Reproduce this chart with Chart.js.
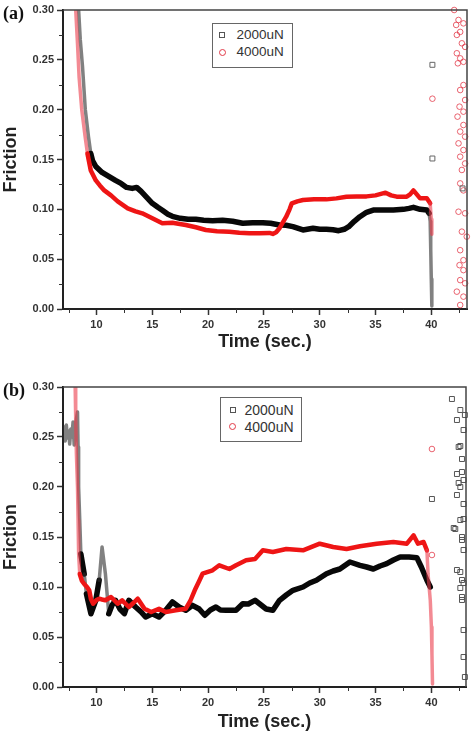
<!DOCTYPE html>
<html>
<head>
<meta charset="utf-8">
<script src="https://cdn.jsdelivr.net/npm/chart.js@4.4.1/dist/chart.umd.min.js"></script>
<style>
  html, body { margin: 0; padding: 0; background: #fff; overflow: hidden; }
  #page { position: relative; width: 473px; height: 731px; }
  canvas { position: absolute; left: 0; }
  .tag { position: absolute; left: 3px; font: bold 18px "Liberation Serif", "Times New Roman", serif; color: #111; line-height: 18px; }
  .legend { position: absolute; border: 1.5px solid #666; background: #fff; box-sizing: border-box; color: #333;
            font-family: "Liberation Sans", Arial, sans-serif; }
  .legend span { position: absolute; white-space: nowrap; line-height: 16px; }
  .sq { width: 4px; height: 4px; border: 1px solid #555; }
  .ci { width: 5px; height: 5px; border: 1px solid #e23a48; border-radius: 50%; }
</style>
</head>
<body>
<div id="page">
  <canvas id="chart-a" width="473" height="365" style="top:0"></canvas>
  <canvas id="chart-b" width="473" height="367" style="top:364px"></canvas>

  <div class="tag" style="top:4px">(a)</div>
  <div class="tag" style="top:381px">(b)</div>

  <div class="legend" style="left:212px;top:23px;width:81px;height:45px;font-size:13.5px">
    <span class="sq" style="left:5.5px;top:7.5px"></span><span style="left:23.5px;top:2.5px">2000uN</span>
    <span class="ci" style="left:6px;top:24.5px"></span><span style="left:23.5px;top:20px">4000uN</span>
  </div>
  <div class="legend" style="left:220px;top:397px;width:82px;height:45px;font-size:14px">
    <span class="sq" style="left:8.8px;top:8.5px"></span><span style="left:23.5px;top:3.5px">2000uN</span>
    <span class="ci" style="left:8.3px;top:25px"></span><span style="left:23.5px;top:20.8px">4000uN</span>
  </div>
</div>

<script>
/* ===== ticks ===== */
const X_MAJOR = [10, 15, 20, 25, 30, 35, 40];
const X_MINOR = [7.5, 12.5, 17.5, 22.5, 27.5, 32.5, 37.5, 42.5];
const Y_MAJOR = [0, 0.05, 0.10, 0.15, 0.20, 0.25, 0.30];
const Y_MINOR = [0.025, 0.075, 0.125, 0.175, 0.225, 0.275];

/* ===== panel (a): [time s, friction] ===== */
const A_2000 = [
  [8.40, 0.300], [8.55, 0.270], [8.75, 0.243], [9.00, 0.200], [9.28, 0.173], [9.49, 0.156],
  [9.64, 0.149], [9.94, 0.143], [10.5, 0.137], [11.1, 0.133], [11.7, 0.129], [12.2, 0.126],
  [12.7, 0.122], [13.2, 0.121], [13.6, 0.122], [14.0, 0.118], [14.5, 0.112], [15.0, 0.106],
  [15.5, 0.102], [15.9, 0.099], [16.4, 0.095], [16.8, 0.093], [17.5, 0.091], [18.2, 0.090],
  [18.9, 0.090], [19.6, 0.089], [20.4, 0.0886], [21.3, 0.089], [22.2, 0.088], [23.1, 0.086],
  [24.0, 0.0866], [24.9, 0.0866], [25.6, 0.086], [26.4, 0.0843], [27.0, 0.084], [27.6, 0.0826],
  [28.5, 0.0793], [29.4, 0.081], [30.0, 0.080], [30.6, 0.080], [31.2, 0.0795], [31.7, 0.0786],
  [32.2, 0.080], [32.6, 0.0826], [33.1, 0.088], [33.6, 0.0926], [34.2, 0.097], [34.8, 0.0993],
  [35.7, 0.0993], [36.6, 0.0993], [37.5, 0.100], [38.0, 0.101], [38.4, 0.102], [39.0, 0.100],
  [39.6, 0.0993], [39.8, 0.096], [39.9, 0.088], [39.95, 0.060], [40.0, 0.030], [40.05, 0.003]
];
const A_4000 = [
  [8.14, 0.300], [8.30, 0.266], [8.44, 0.233], [8.68, 0.200], [8.98, 0.173], [9.19, 0.156],
  [9.49, 0.139], [9.94, 0.129], [10.3, 0.124], [10.7, 0.119], [11.3, 0.114], [11.9, 0.108],
  [12.8, 0.101], [13.5, 0.098], [14.1, 0.096], [15.0, 0.091], [15.9, 0.086], [16.8, 0.0866],
  [18.0, 0.0843], [18.9, 0.082], [19.8, 0.0793], [20.8, 0.078], [21.9, 0.0776], [22.8, 0.0765],
  [23.7, 0.076], [24.6, 0.076], [25.5, 0.0763], [25.8, 0.0753], [26.1, 0.077], [26.4, 0.081],
  [26.7, 0.087], [27.0, 0.0926], [27.3, 0.100], [27.5, 0.106], [28.0, 0.108], [28.5, 0.1093],
  [29.5, 0.110], [30.6, 0.110], [31.5, 0.111], [32.4, 0.1127], [33.3, 0.113], [34.2, 0.113],
  [35.0, 0.114], [35.9, 0.1167], [36.4, 0.114], [36.9, 0.1127], [37.8, 0.1127], [38.1, 0.115],
  [38.4, 0.119], [38.7, 0.115], [39.0, 0.111], [39.6, 0.111], [39.9, 0.106], [40.0, 0.090],
  [40.05, 0.075]
];
const A_2000_STRAY = [[40.1, 0.245], [40.1, 0.151], [42.8, 0.121]];
const A_4000_STRAY = [
  [40.1, 0.211], [42.05, 0.300], [42.44, 0.290], [42.23, 0.285], [42.88, 0.2866], [42.59, 0.278],
  [42.29, 0.275], [42.74, 0.2666], [43.03, 0.263], [42.29, 0.2566], [42.59, 0.2515], [42.88, 0.248],
  [42.38, 0.2465], [42.88, 0.2247], [42.59, 0.2197], [43.03, 0.2097], [42.53, 0.203], [42.88, 0.198],
  [42.35, 0.193], [42.88, 0.1846], [42.59, 0.178], [43.03, 0.1729], [42.44, 0.1662], [42.88, 0.1595],
  [42.59, 0.1528], [43.03, 0.146], [42.74, 0.1395], [42.59, 0.126], [42.88, 0.119], [42.44, 0.0976],
  [43.03, 0.096], [42.74, 0.0776], [43.18, 0.0726], [42.59, 0.059], [42.88, 0.049], [42.53, 0.044],
  [42.88, 0.039], [42.59, 0.029], [43.03, 0.0258], [42.29, 0.0174], [42.88, 0.0124], [42.59, 0.004]
];

/* ===== panel (b) ===== */
const B_2000 = [
  [7.00, 0.252], [7.10, 0.260], [7.20, 0.246], [7.30, 0.262], [7.40, 0.249], [7.50, 0.256],
  [7.60, 0.243], [7.70, 0.258], [7.80, 0.250], [7.90, 0.265], [8.00, 0.242], [8.10, 0.257],
  [8.20, 0.268], [8.30, 0.275], [8.35, 0.240], [8.40, 0.200], [8.50, 0.167], [8.60, 0.133],
  [8.90, 0.113], [9.10, 0.093], [9.50, 0.0733], [9.94, 0.0867], [10.24, 0.1067], [10.5, 0.140],
  [10.8, 0.113], [11.0, 0.0867], [11.1, 0.0733], [11.4, 0.082], [11.7, 0.0867], [12.1, 0.078],
  [12.5, 0.0733], [12.9, 0.0867], [13.5, 0.080], [14.0, 0.075], [14.4, 0.070], [15.0, 0.0733],
  [15.6, 0.070], [16.2, 0.0767], [16.8, 0.085], [17.4, 0.080], [18.0, 0.0767], [18.6, 0.0817],
  [19.2, 0.078], [19.7, 0.0717], [20.2, 0.077], [20.7, 0.080], [21.1, 0.077], [21.6, 0.0767],
  [22.5, 0.0767], [23.1, 0.0833], [23.6, 0.083], [24.2, 0.0867], [24.6, 0.0833], [25.2, 0.078],
  [25.8, 0.0767], [26.4, 0.0867], [27.0, 0.092], [27.6, 0.0967], [28.5, 0.100], [29.1, 0.104],
  [29.7, 0.1067], [30.6, 0.1133], [31.2, 0.116], [31.8, 0.118], [32.7, 0.125], [33.6, 0.1217],
  [34.2, 0.120], [34.8, 0.118], [35.4, 0.121], [36.0, 0.1233], [36.6, 0.127], [37.2, 0.130],
  [38.0, 0.130], [38.7, 0.1293], [39.1, 0.120], [39.6, 0.1067], [39.9, 0.100]
];
const B_4000 = [
  [8.09, 0.300], [8.14, 0.267], [8.20, 0.233], [8.30, 0.200], [8.35, 0.167], [8.40, 0.133],
  [8.50, 0.113], [8.70, 0.106], [8.90, 0.103], [9.15, 0.100], [9.35, 0.0967], [9.50, 0.088],
  [9.70, 0.0833], [10.0, 0.087], [10.24, 0.0883], [10.5, 0.0875], [10.8, 0.0867], [11.3, 0.090],
  [11.9, 0.0833], [12.3, 0.0867], [12.9, 0.080], [13.3, 0.084], [13.7, 0.0883], [14.3, 0.0783],
  [14.9, 0.075], [15.6, 0.0783], [16.2, 0.075], [17.1, 0.0767], [18.0, 0.0783], [18.4, 0.086],
  [18.8, 0.0967], [19.2, 0.106], [19.5, 0.1133], [20.4, 0.1167], [21.0, 0.1217], [21.9, 0.118],
  [22.5, 0.1217], [23.4, 0.1267], [24.2, 0.128], [24.9, 0.1367], [25.8, 0.135], [27.0, 0.138],
  [28.5, 0.1367], [30.0, 0.1433], [31.2, 0.140], [32.4, 0.138], [33.6, 0.1407], [35.1, 0.1433],
  [36.6, 0.145], [37.8, 0.1433], [38.4, 0.1517], [38.8, 0.1433], [39.3, 0.145], [39.6, 0.1367],
  [39.7, 0.113], [39.9, 0.0867], [40.0, 0.060], [40.05, 0.033], [40.1, 0.003]
];
const B_2000_STRAY = [
  [40.05, 0.188], [41.84, 0.288], [42.59, 0.277], [42.29, 0.267], [42.88, 0.257], [43.0, 0.272],
  [42.44, 0.240], [42.74, 0.228], [42.59, 0.241], [42.29, 0.213], [42.74, 0.215], [42.88, 0.207],
  [42.59, 0.200], [42.44, 0.204], [42.29, 0.192], [42.88, 0.183], [42.59, 0.167], [42.88, 0.168],
  [42.14, 0.158], [42.0, 0.159], [42.74, 0.147], [42.74, 0.150], [42.88, 0.137], [42.29, 0.117],
  [42.59, 0.115], [42.88, 0.104], [42.74, 0.107], [42.59, 0.099], [42.74, 0.090], [42.74, 0.087],
  [42.88, 0.057], [42.88, 0.030], [43.0, 0.010]
];
const B_4000_STRAY = [[40.05, 0.238], [40.05, 0.132]];

const FONT = '"Liberation Sans", Arial, sans-serif';
const toXY = pts => pts.map(([x, y]) => ({ x, y }));

// only the near-vertical stretches were sparse hollow markers in the original
function isSteep(c) {
  return Math.abs(c.p1.y - c.p0.y) > 6 * Math.abs(c.p1.x - c.p0.x);
}

function bandSet(label, pts, color, width, faded, order) {
  return {
    label, data: toXY(pts), showLine: true, order,
    borderColor: color, borderWidth: width, pointRadius: 0, tension: 0,
    borderJoinStyle: 'round', borderCapStyle: 'round',
    segment: {
      borderColor: c => isSteep(c) ? faded : undefined,
      borderWidth: c => isSteep(c) ? 3.5 : undefined
    }
  };
}

function strayMarks(pts, style, color, r, order) {
  return {
    data: toXY(pts), showLine: false, order, clip: 4,
    pointStyle: style, pointRadius: r, pointBorderColor: color,
    pointBackgroundColor: 'rgba(0,0,0,0)', pointBorderWidth: 1
  };
}

const frameAndMinor = {
  id: 'frameAndMinor',
  afterDraw(chart) {
    const { ctx, chartArea: a, scales: { x, y } } = chart;
    ctx.save();
    ctx.strokeStyle = '#444';
    ctx.lineWidth = 1.5;
    ctx.beginPath();
    ctx.moveTo(a.left, a.top); ctx.lineTo(a.right, a.top); ctx.lineTo(a.right, a.bottom);
    ctx.stroke();
    ctx.strokeStyle = '#333';
    ctx.lineWidth = 1;
    ctx.beginPath();
    X_MINOR.forEach(v => {
      const px = Math.round(x.getPixelForValue(v)) + 0.5;
      ctx.moveTo(px, a.bottom); ctx.lineTo(px, a.bottom + 4);
    });
    Y_MINOR.forEach(v => {
      const py = Math.round(y.getPixelForValue(v)) + 0.5;
      ctx.moveTo(a.left - 4, py); ctx.lineTo(a.left, py);
    });
    ctx.stroke();
    ctx.restore();
  }
};

function makePanel(id, datasets, xMax, padding, xAxisHeight) {
  return new Chart(document.getElementById(id), {
    type: 'scatter',
    data: { datasets },
    options: {
      responsive: false, animation: false,
      layout: { padding },
      plugins: { legend: { display: false }, tooltip: { enabled: false } },
      scales: {
        x: {
          type: 'linear', min: 7, max: xMax,
          afterBuildTicks: s => { s.ticks = X_MAJOR.map(v => ({ value: v })); },
          afterFit: s => { s.height = xAxisHeight; },
          grid: { drawOnChartArea: false, drawTicks: true, tickLength: 6, tickColor: '#333', tickWidth: 1.5 },
          border: { display: true, color: '#222', width: 2 },
          ticks: { color: '#333', padding: 3, maxRotation: 0, autoSkip: false,
                   font: { family: FONT, size: 11, weight: 'bold' } },
          title: { display: true, text: 'Time (sec.)', color: '#222', padding: { top: 0, bottom: 0 },
                   font: { family: FONT, size: 18, weight: 'bold', lineHeight: 1 } }
        },
        y: {
          type: 'linear', min: 0, max: 0.30,
          afterBuildTicks: s => { s.ticks = Y_MAJOR.map(v => ({ value: v })); },
          afterFit: s => { s.width = 63; },
          grid: { drawOnChartArea: false, drawTicks: true, tickLength: 6, tickColor: '#333', tickWidth: 1.5 },
          border: { display: true, color: '#222', width: 2 },
          ticks: { color: '#333', padding: 3, callback: v => Number(v).toFixed(2),
                   font: { family: FONT, size: 11, weight: 'bold' } },
          title: { display: true, text: 'Friction', color: '#222', padding: { top: 2.5, bottom: 0 },
                   font: { family: FONT, size: 18, weight: 'bold', lineHeight: 1 } }
        }
      }
    },
    plugins: [frameAndMinor]
  });
}

const BLACK_FADED = 'rgba(45,45,45,0.6)';
const RED_FADED = 'rgba(235,60,75,0.6)';

makePanel('chart-a', [
  strayMarks(A_2000_STRAY, 'rect', '#666', 3.5, 0),
  strayMarks(A_4000_STRAY, 'circle', 'rgba(226,50,66,0.75)', 2.8, 0),
  bandSet('4000uN', A_4000, '#ee1515', 4.5, RED_FADED, 1),
  bandSet('2000uN', A_2000, '#080808', 5.5, BLACK_FADED, 2)
], 43.2, { left: 0, top: 10, right: 6, bottom: 14 }, 42);

makePanel('chart-b', [
  strayMarks(B_2000_STRAY, 'rect', '#555', 3.5, 0),
  strayMarks(B_4000_STRAY, 'circle', 'rgba(226,50,66,0.75)', 2.8, 0),
  bandSet('4000uN', B_4000, '#ee1515', 4.5, RED_FADED, 1),
  bandSet('2000uN', B_2000, '#080808', 5.5, BLACK_FADED, 2)
], 43.1, { left: 0, top: 23, right: 7, bottom: 0 }, 44);
</script>
</body>
</html>
